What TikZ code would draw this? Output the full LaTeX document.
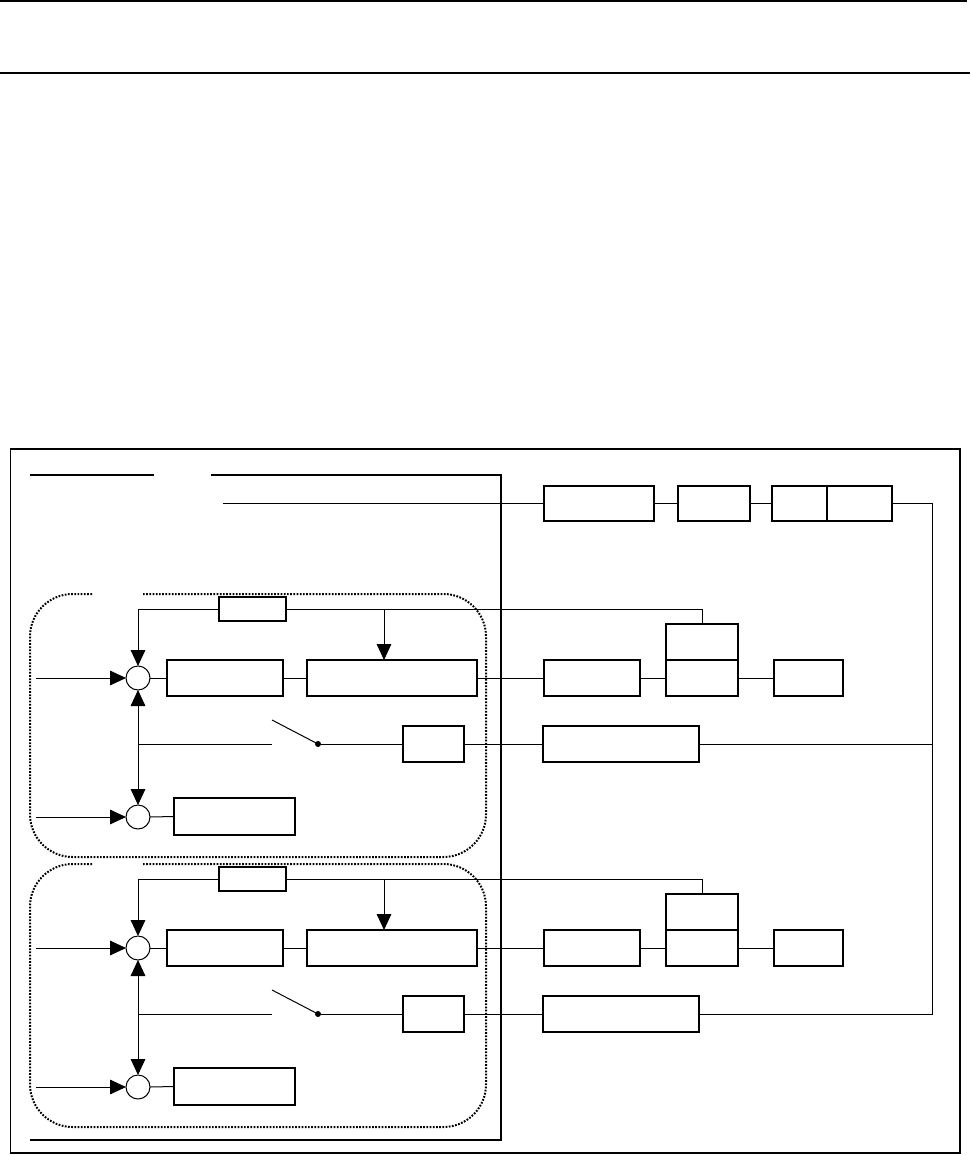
\documentclass[tikz,border=0pt]{standalone}
\usetikzlibrary{arrows.meta,fit}
\begin{document}
\begin{tikzpicture}[x=0.75pt,y=-0.75pt,
  blk/.style={draw, line width=0.8pt, inner sep=0pt, outer sep=0pt},
  wire/.style={line width=0.75pt},
  arr/.style={wire, -{Triangle[length=12pt,width=11pt]}},
  darr/.style={wire, {Triangle[length=12pt,width=11pt]}-{Triangle[length=12pt,width=11pt]}},
  sumj/.style={draw, circle, line width=0.75pt, minimum size=18pt, inner sep=0pt, outer sep=0pt},
  heavy/.style={line width=2.2pt},
  dots/.style={line width=1.5pt, dash pattern=on 1.3pt off 1.1pt},
  pivot/.style={circle, fill, inner sep=0pt, minimum size=4.5pt}]
\useasboundingbox (0,0) rectangle (970,1155);

% page rules
\coordinate (r1a) at (0,1);   \coordinate (r1b) at (967,1);
\coordinate (r2a) at (0,73);  \coordinate (r2b) at (970,73);
\draw[line width=1.1pt] (r1a) -- (r1b);
\draw[heavy] (r2a) -- (r2b);

% outer frame
\draw[line width=0.9pt] (10.5,449) rectangle (960,1153);

% heavy frame lines
\coordinate (h1) at (30,475);  \coordinate (h2) at (154,475);
\coordinate (h3) at (211,475); \coordinate (h4) at (501,475);
\coordinate (h5) at (501,1140); \coordinate (h6) at (30,1140);
\draw[heavy] (h1) -- (h2);
\draw[heavy] (h3) -- (h4) -- (h5) -- (h6);

% top row
\node[blk, fit={(544,486)(654,521)}] (A) {};
\node[blk, fit={(678,486)(750,521)}] (B) {};
\node[blk, fit={(772,486)(827,521)}] (C1) {};
\node[blk, fit={(827,486)(892,521)}] (C2) {};
\coordinate (t0) at (223,503.5);
\coordinate (rt) at (932,503.5);
\coordinate (rb) at (932,1014);
\draw[wire] (t0) -- (A.west);
\draw[wire] (A.east) -- (B.west);
\draw[wire] (B.east) -- (C1.west);

\foreach \o/\g in {0/1,270/2}{
  % dotted group outline with gap at top
  \draw[dots, rounded corners=32pt]
    (143,{594+\o}) -- (486,{594+\o}) -- (486,{857+\o}) -- (30,{857+\o})
    -- (30,{594+\o}) -- (92,{594+\o});

  % blocks
  \node[blk, fit={(219,{597+\o})(286,{621+\o})}] (fb\g) {};
  \node[blk, fit={(167,{660+\o})(283,{696+\o})}] (D1\g) {};
  \node[blk, fit={(307,{660+\o})(477,{696+\o})}] (D2\g) {};
  \node[blk, fit={(403,{726+\o})(464,{762+\o})}] (F\g) {};
  \node[blk, fit={(174,{798+\o})(295,{835+\o})}] (H\g) {};
  \node[blk, fit={(544,{660+\o})(640,{696+\o})}] (E\g) {};
  \node[blk, fit={(666,{624+\o})(738,{660+\o})}] (U\g) {};
  \node[blk, fit={(666,{660+\o})(738,{696+\o})}] (L\g) {};
  \node[blk, fit={(774,{660+\o})(843,{696+\o})}] (I\g) {};
  \node[blk, fit={(543,{726+\o})(699,{762+\o})}] (G\g) {};
  \node[sumj] (sa\g) at (138,{678+\o}) {};
  \node[sumj] (sb\g) at (138,{817+\o}) {};
  \node[pivot] (dot\g) at (318,{744+\o}) {};

  \coordinate (ina\g) at (36,{678+\o});
  \coordinate (inb\g) at (36,{817+\o});
  \coordinate (k\g) at (384,{609+\o});
  \coordinate (sw0\g) at (138,{744+\o});
  \coordinate (sw1\g) at (272,{744+\o});
  \coordinate (bl\g) at (272,{720+\o});

  % connectors
  \draw[wire] (U\g.north) |- (fb\g.east);
  \draw[arr] (fb\g.west) -| (sa\g.north);
  \draw[arr] (k\g) -- (k\g |- D2\g.north);
  \draw[arr] (ina\g) -- (sa\g.west);
  \draw[arr] (inb\g) -- (sb\g.west);
  \draw[darr] (sa\g.south) -- (sb\g.north);
  \draw[wire] (sa\g.east) -- (D1\g.west);
  \draw[wire] (D1\g.east) -- (D2\g.west);
  \draw[wire] (D2\g.east) -- (E\g.west);
  \draw[wire] (E\g.east) -- (L\g.west);
  \draw[wire] (L\g.east) -- (I\g.west);
  \draw[wire] (sb\g.east) -- (H\g.west);
  \draw[wire] (sw0\g) -- (sw1\g);
  \draw[wire] (bl\g) -- (dot\g.center);
  \draw[wire] (dot\g) -- (F\g.west);
  \draw[wire] (F\g.east) -- (G\g.west);
  \draw[wire] (G\g.east) -- (G\g.east -| rt);
}

\draw[wire] (C2.east) -- (rt) -- (rb) -- (G2.east);
\end{tikzpicture}
\end{document}
